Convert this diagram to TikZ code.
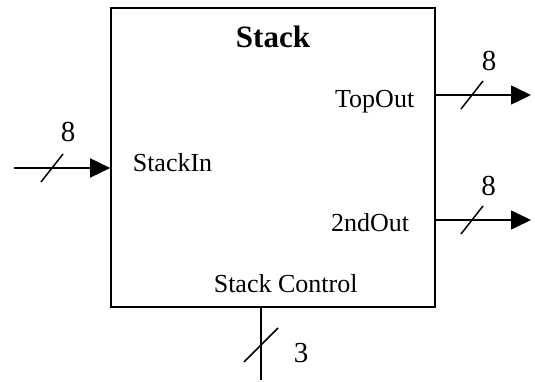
\documentclass[tikz,border=0pt]{standalone}
\usepackage{fontspec}
\setmainfont{Liberation Serif}
\usetikzlibrary{arrows.meta}

\begin{document}
\begin{tikzpicture}[x=1pt, y=1pt, line width=1.6pt,
        font=\fontsize{26}{30}\selectfont,
        sig/.style={-{Triangle[length=20pt,width=19pt]}},
        lbl/.style={inner sep=0pt}]
        \useasboundingbox (0,0) rectangle (535,382);
        % the stack block
        \node[draw, minimum width=324pt, minimum height=299pt, inner sep=0pt] (stack) at (273,224.5) {};
        \node[lbl, font=\fontsize{31}{36}\selectfont\bfseries, anchor=base] (title) at (273,334) {Stack};
        \node[lbl, anchor=base west] (stackin) at (132,210) {StackIn};
        \node[lbl, anchor=base east] (topout) at (415,274) {TopOut};
        \node[lbl, anchor=base east] (sndout) at (410,150) {2ndOut};
        \node[lbl, anchor=base west] (ctl) at (213,89) {Stack Control};
        % signal ends
        \coordinate (inS) at (14,214);
        \coordinate (topE) at (531,287);
        \coordinate (sndE) at (531,162);
        \coordinate (ctlE) at (261,2);
        \draw[sig] (inS) -- (inS -| stack.west);
        \draw[sig] (topE -| stack.east) -- (topE);
        \draw[sig] (sndE -| stack.east) -- (sndE);
        \draw (ctlE |- stack.south) -- (ctlE);
        % bus widths
        \foreach \p in {(52,214),(472,287),(472,162)} {
            \draw[line width=1.5pt] \p ++(-11,-14) -- ++(22,28);
        }
        \draw[line width=1.5pt] (261,37) ++(-17,-17) -- ++(34,34);
        \node[lbl, font=\fontsize{29}{34}\selectfont] (w1) at (68,249.5) {8};
        \node[lbl, font=\fontsize{29}{34}\selectfont] (w2) at (489,321) {8};
        \node[lbl, font=\fontsize{29}{34}\selectfont] (w3) at (488.5,196) {8};
        \node[lbl, font=\fontsize{29}{34}\selectfont] (w4) at (301,29) {3};
    \end{tikzpicture}
\end{document}
